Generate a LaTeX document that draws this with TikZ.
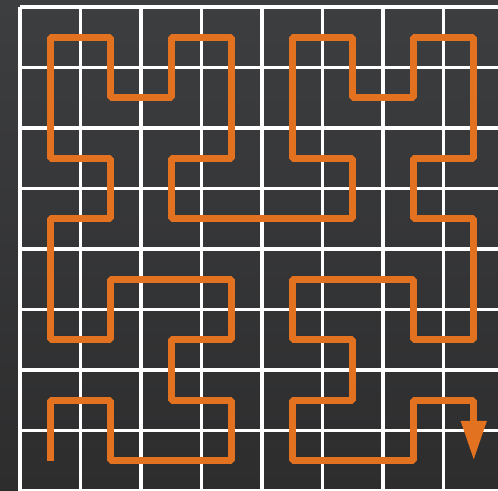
\documentclass[tikz,border=0pt]{standalone}
\usepackage{tikz}
\usetikzlibrary{arrows.meta}
\definecolor{PanelTop}{RGB}{61, 62, 64}
\definecolor{PanelBottom}{RGB}{45, 45, 46}
\definecolor{CurveOrange}{RGB}{226, 113, 32}
\tikzset{
  gridline/.style={white, line width=1.6pt},
  hilbert/.style={CurveOrange, line width=3.5pt, line join=bevel,
    -{Triangle[length=18.8pt, width=11.3pt]}}
}

\begin{document}
\begin{tikzpicture}
    % Background panel
    \fill[top color=PanelTop, bottom color=PanelBottom] (-0.331, 0) rectangle (7.901, 8.116);
    \useasboundingbox (-0.331, 0) rectangle (7.901, 8.116);

    % 8x8 cell grid
    \draw[gridline] (0, 0) grid (8, 8);

    % Hilbert curve of order 3 through the cell centres
    \draw[hilbert] (0.5,0.5) -- (0.5,1.5) -- (1.5,1.5) -- (1.5,0.5) -- (2.5,0.5) -- (3.5,0.5) -- (3.5,1.5) -- (2.5,1.5)
        -- (2.5,2.5) -- (3.5,2.5) -- (3.5,3.5) -- (2.5,3.5) -- (1.5,3.5) -- (1.5,2.5) -- (0.5,2.5) -- (0.5,3.5)
        -- (0.5,4.5) -- (1.5,4.5) -- (1.5,5.5) -- (0.5,5.5) -- (0.5,6.5) -- (0.5,7.5) -- (1.5,7.5) -- (1.5,6.5)
        -- (2.5,6.5) -- (2.5,7.5) -- (3.5,7.5) -- (3.5,6.5) -- (3.5,5.5) -- (2.5,5.5) -- (2.5,4.5) -- (3.5,4.5)
        -- (4.5,4.5) -- (5.5,4.5) -- (5.5,5.5) -- (4.5,5.5) -- (4.5,6.5) -- (4.5,7.5) -- (5.5,7.5) -- (5.5,6.5)
        -- (6.5,6.5) -- (6.5,7.5) -- (7.5,7.5) -- (7.5,6.5) -- (7.5,5.5) -- (6.5,5.5) -- (6.5,4.5) -- (7.5,4.5)
        -- (7.5,3.5) -- (7.5,2.5) -- (6.5,2.5) -- (6.5,3.5) -- (5.5,3.5) -- (4.5,3.5) -- (4.5,2.5) -- (5.5,2.5)
        -- (5.5,1.5) -- (4.5,1.5) -- (4.5,0.5) -- (5.5,0.5) -- (6.5,0.5) -- (6.5,1.5) -- (7.5,1.5) -- (7.5,0.5);
\end{tikzpicture}
\end{document}
